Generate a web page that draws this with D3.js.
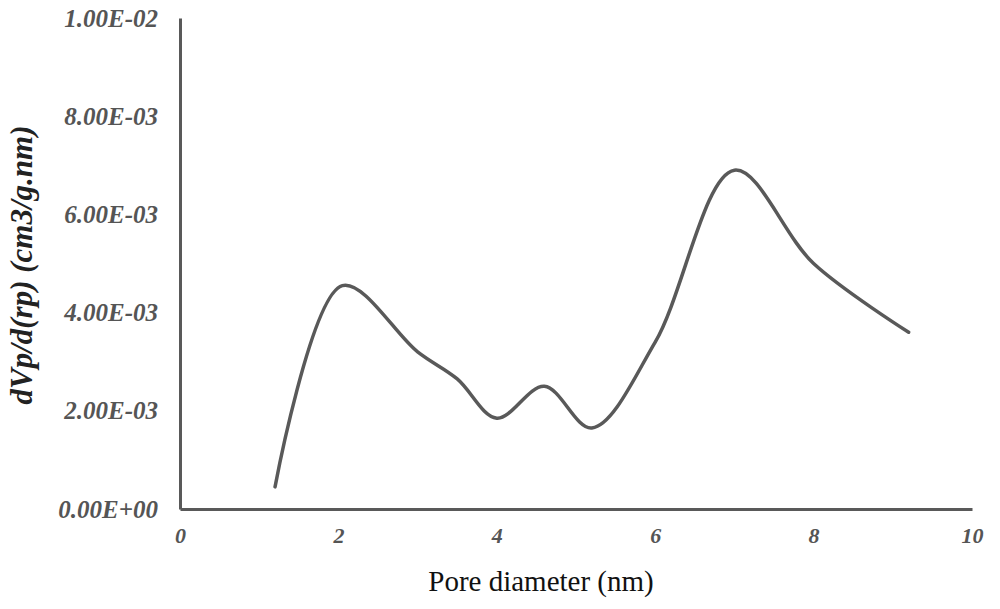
<!DOCTYPE html>
<html><head><meta charset="utf-8">
<script src="https://cdn.jsdelivr.net/npm/d3@7"></script>
<style>body{margin:0;background:#fff}svg{display:block}</style>
</head><body>
<svg id="c" width="1000" height="609"></svg>
<script>
const poreDiameter = [1.2, 2.05, 3.0, 3.5, 4.0, 4.6, 5.2, 6.0, 7.0, 8.0, 9.2];
const dVpValues = [0.00045, 0.00455, 0.0032, 0.00265, 0.00185, 0.0025, 0.00165, 0.0034, 0.0069, 0.0050, 0.0036];
const xTicks = [0, 2, 4, 6, 8, 10];
const yTicks = [0, 0.002, 0.004, 0.006, 0.008, 0.01];
const yTickLabels = ["0.00E+00", "2.00E-03", "4.00E-03", "6.00E-03", "8.00E-03", "1.00E-02"];

const svg = d3.select("#c");
const x = d3.scaleLinear().domain([0, 10]).range([180, 972]);
const y = d3.scaleLinear().domain([0, 0.01]).range([509, 18]);
const serif = "'Liberation Serif','Times New Roman',serif";

const xAxis = d3.axisBottom(x).tickValues(xTicks).tickSize(0).tickPadding(18).tickFormat(d3.format("d"));
const yAxis = d3.axisLeft(y).tickValues(yTicks).tickSize(0).tickPadding(22).tickFormat((d,i)=>yTickLabels[i]);

const gx = svg.append("g").attr("transform", `translate(0,${y(0)})`).call(xAxis);
const gy = svg.append("g").attr("transform", `translate(${x(0)},0)`).call(yAxis);
[gx, gy].forEach(g => {
  g.select(".domain").attr("stroke", "#595959").attr("stroke-width", 3);
  g.selectAll("text").attr("font-family", serif).attr("font-weight", "bold")
   .attr("font-style", "italic").attr("font-size", 25).attr("fill", "#555");
});
gx.selectAll("text").attr("font-size", 22);

const pts = poreDiameter.map((d, i) => [d, dVpValues[i]]);
const line = d3.line().x(d => x(d[0])).y(d => y(d[1])).curve(d3.curveCatmullRom.alpha(0.5));
svg.append("path").datum(pts).attr("d", line).attr("fill", "none")
  .attr("stroke", "#595959").attr("stroke-width", 3.5).attr("stroke-linecap", "round");

svg.append("text").attr("x", 541).attr("y", 591).attr("text-anchor", "middle")
  .attr("font-family", serif).attr("font-size", 29).attr("fill", "#111")
  .text("Pore diameter (nm)");

svg.append("text").attr("transform", "translate(32,265) rotate(-90)").attr("text-anchor", "middle")
  .attr("font-family", serif).attr("font-size", 31).attr("font-weight", "bold").attr("font-style", "italic")
  .attr("fill", "#222").text("dVp/d(rp) (cm3/g.nm)");
</script>
</body></html>
